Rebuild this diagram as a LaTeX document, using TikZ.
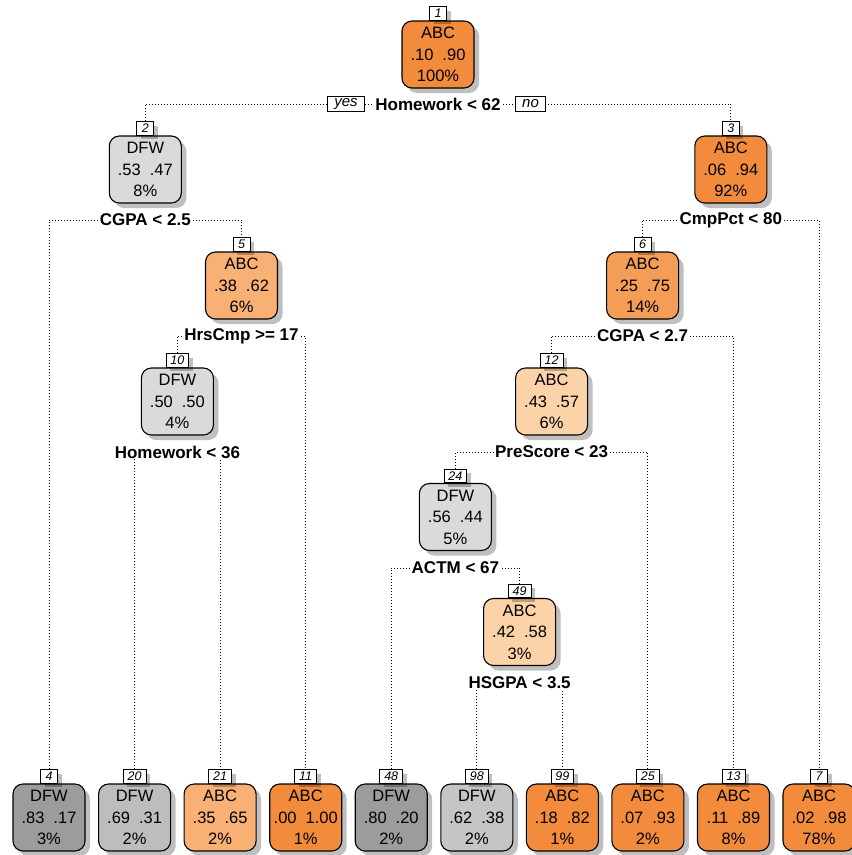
\documentclass[tikz,border=0pt]{standalone}
\usepackage{fontspec}
\setmainfont{Liberation Sans}
\usetikzlibrary{shadows,backgrounds}
\definecolor{oA}{HTML}{F28C3C}
\definecolor{oB}{HTML}{F49D56}
\definecolor{oC}{HTML}{F8B074}
\definecolor{oD}{HTML}{FCD3A8}
\definecolor{gA}{HTML}{DADADA}
\definecolor{gB}{HTML}{C5C5C5}
\definecolor{gC}{HTML}{BDBDBD}
\definecolor{gD}{HTML}{9C9C9C}
\tikzset{
  tbox/.style={draw=black, line width=1.1pt, rounded corners=10pt,
    minimum width=72pt, minimum height=67pt, align=center, inner sep=0pt,
    font=\fontsize{16.5}{21.5}\selectfont,
    drop shadow={shadow xshift=5pt, shadow yshift=-5pt, fill=black, opacity=0.25}},
  nlab/.style={draw=black, line width=0.8pt, fill=white, minimum width=17pt,
    minimum height=13.5pt, inner xsep=4.5pt, inner ysep=0pt, anchor=south,
    font=\fontsize{12.5}{12.5}\selectfont\itshape,
    drop shadow={shadow xshift=4pt, shadow yshift=-4pt, fill=black, opacity=0.25}},
  splitlab/.style={fill=white, inner xsep=1.5pt, inner ysep=1pt,
    font=\fontsize{17}{17}\selectfont\bfseries},
  yn/.style={draw=black, fill=white, line width=0.8pt, minimum height=15pt,
    inner xsep=6.5pt, inner ysep=0pt, font=\fontsize{15}{15}\selectfont\itshape},
  conn/.style={line width=1pt, dash pattern=on 1pt off 2pt}
}
\newcommand{\gp}{\hspace{9pt}}
\begin{document}
\begin{tikzpicture}[x=1pt,y=-1pt]
\useasboundingbox (0,0) rectangle (852,855);
% internal nodes
\node[tbox, fill=oA] (n1) at (438,54.5) {ABC\\.10\gp.90\\100\%};
\node[nlab] (l1) at (n1.north) {1};
\node[splitlab] (s1) at (438,104) {Homework < 62};
\node[yn] (yes) at (346,104) {yes};
\node[yn] (no) at (530.5,104) {no};

\node[tbox, fill=gA] (n2) at (145.3,169.5) {DFW\\.53\gp.47\\8\%};
\node[nlab] (l2) at (n2.north) {2};
\node[splitlab] (s2) at (145.3,220) {CGPA < 2.5};

\node[tbox, fill=oA] (n3) at (730.8,169.5) {ABC\\.06\gp.94\\92\%};
\node[nlab] (l3) at (n3.north) {3};
\node[splitlab] (s3) at (730.8,220) {CmpPct < 80};

\node[tbox, fill=oC] (n5) at (241.5,285.5) {ABC\\.38\gp.62\\6\%};
\node[nlab] (l5) at (n5.north) {5};
\node[splitlab] (s5) at (241.5,336) {HrsCmp >= 17};

\node[tbox, fill=oB] (n6) at (642.6,285.5) {ABC\\.25\gp.75\\14\%};
\node[nlab] (l6) at (n6.north) {6};
\node[splitlab] (s6) at (642.6,336) {CGPA < 2.7};

\node[tbox, fill=gA] (n10) at (177.4,401.5) {DFW\\.50\gp.50\\4\%};
\node[nlab] (l10) at (n10.north) {10};
\node[splitlab] (s10) at (177.4,452) {Homework < 36};

\node[tbox, fill=oD] (n12) at (551.6,401.5) {ABC\\.43\gp.57\\6\%};
\node[nlab] (l12) at (n12.north) {12};
\node[splitlab] (s12) at (551.6,452) {PreScore < 23};

\node[tbox, fill=gA] (n24) at (455.4,517) {DFW\\.56\gp.44\\5\%};
\node[nlab] (l24) at (n24.north) {24};
\node[splitlab] (s24) at (455.4,568) {ACTM < 67};

\node[tbox, fill=oD] (n49) at (519.6,632) {ABC\\.42\gp.58\\3\%};
\node[nlab] (l49) at (n49.north) {49};
\node[splitlab] (s49) at (519.6,683) {HSGPA < 3.5};

% leaves
\node[tbox, fill=gD] (n4) at (49,817.5) {DFW\\.83\gp.17\\3\%};
\node[nlab] (l4) at (n4.north) {4};
\node[tbox, fill=gC] (n20) at (134.6,817.5) {DFW\\.69\gp.31\\2\%};
\node[nlab] (l20) at (n20.north) {20};
\node[tbox, fill=oC] (n21) at (220.1,817.5) {ABC\\.35\gp.65\\2\%};
\node[nlab] (l21) at (n21.north) {21};
\node[tbox, fill=oA] (n11) at (305.7,817.5) {ABC\\.00\gp1.00\\1\%};
\node[nlab] (l11) at (n11.north) {11};
\node[tbox, fill=gD] (n48) at (391.2,817.5) {DFW\\.80\gp.20\\2\%};
\node[nlab] (l48) at (n48.north) {48};
\node[tbox, fill=gB] (n98) at (476.8,817.5) {DFW\\.62\gp.38\\2\%};
\node[nlab] (l98) at (n98.north) {98};
\node[tbox, fill=oA] (n99) at (562.4,817.5) {ABC\\.18\gp.82\\1\%};
\node[nlab] (l99) at (n99.north) {99};
\node[tbox, fill=oA] (n25) at (647.9,817.5) {ABC\\.07\gp.93\\2\%};
\node[nlab] (l25) at (n25.north) {25};
\node[tbox, fill=oA] (n13) at (733.5,817.5) {ABC\\.11\gp.89\\8\%};
\node[nlab] (l13) at (n13.north) {13};
\node[tbox, fill=oA] (n7) at (819,817.5) {ABC\\.02\gp.98\\78\%};
\node[nlab] (l7) at (n7.north) {7};

% connectors
\begin{pgfonlayer}{background}
\draw[conn] (l2.north) |- (s1.center) -| (l3.north);
\draw[conn] (l4.north) |- (s2.center) -| (l5.north);
\draw[conn] (l6.north) |- (s3.center) -| (l7.north);
\draw[conn] (l10.north) |- (s5.center) -| (l11.north);
\draw[conn] (l12.north) |- (s6.center) -| (l13.north);
\draw[conn] (l20.north) |- (s10.center) -| (l21.north);
\draw[conn] (l24.north) |- (s12.center) -| (l25.north);
\draw[conn] (l48.north) |- (s24.center) -| (l49.north);
\draw[conn] (l98.north) |- (s49.center) -| (l99.north);
\end{pgfonlayer}
\end{tikzpicture}
\end{document}
